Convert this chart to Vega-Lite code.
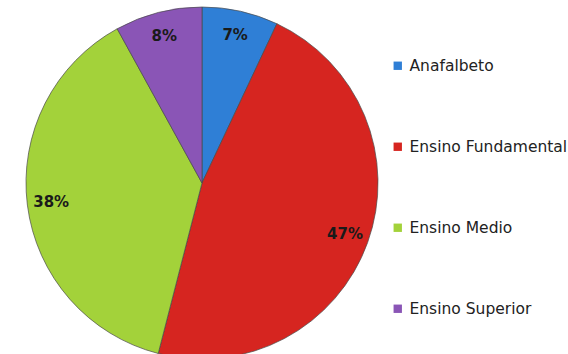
{
  "$schema": "https://vega.github.io/schema/vega-lite/v6.json",
  "width": 404,
  "height": 366,
  "padding": 0,
  "background": "#ffffff",
  "data": {
    "values": [
      {"nivel": "Anafalbeto", "pct": 0.07},
      {"nivel": "Ensino Fundamental", "pct": 0.47},
      {"nivel": "Ensino Medio", "pct": 0.38},
      {"nivel": "Ensino Superior", "pct": 0.08}
    ]
  },
  "encoding": {
    "theta": {"field": "pct", "type": "quantitative", "stack": true},
    "order": {"field": "nivel", "type": "nominal", "sort": "ascending"},
    "color": {
      "field": "nivel",
      "type": "nominal",
      "sort": ["Anafalbeto", "Ensino Fundamental", "Ensino Medio", "Ensino Superior"],
      "scale": {
        "domain": ["Anafalbeto", "Ensino Fundamental", "Ensino Medio", "Ensino Superior"],
        "range": ["#2f7fd6", "#d62520", "#a3d23a", "#8a55b6"]
      },
      "legend": {
        "title": null,
        "orient": "none",
        "legendX": 390,
        "legendY": 58,
        "symbolType": "square",
        "symbolSize": 70,
        "symbolStrokeWidth": 0,
        "labelFont": "DejaVu Sans",
        "labelFontSize": 15.5,
        "labelColor": "#222222",
        "labelOffset": 4,
        "rowPadding": 64,
        "padding": 0
      }
    }
  },
  "layer": [
    {
      "mark": {"type": "arc", "outerRadius": 176, "stroke": "#4a4a4a", "strokeWidth": 1, "strokeOpacity": 0.7}
    },
    {
      "mark": {"type": "text", "radius": 152, "font": "DejaVu Sans", "fontWeight": "bold", "fontSize": 15},
      "encoding": {
        "text": {"field": "pct", "type": "quantitative", "format": ".0%"},
        "fill": {"value": "#1a1a1a"}
      }
    }
  ],
  "config": {"view": {"stroke": null}}
}
